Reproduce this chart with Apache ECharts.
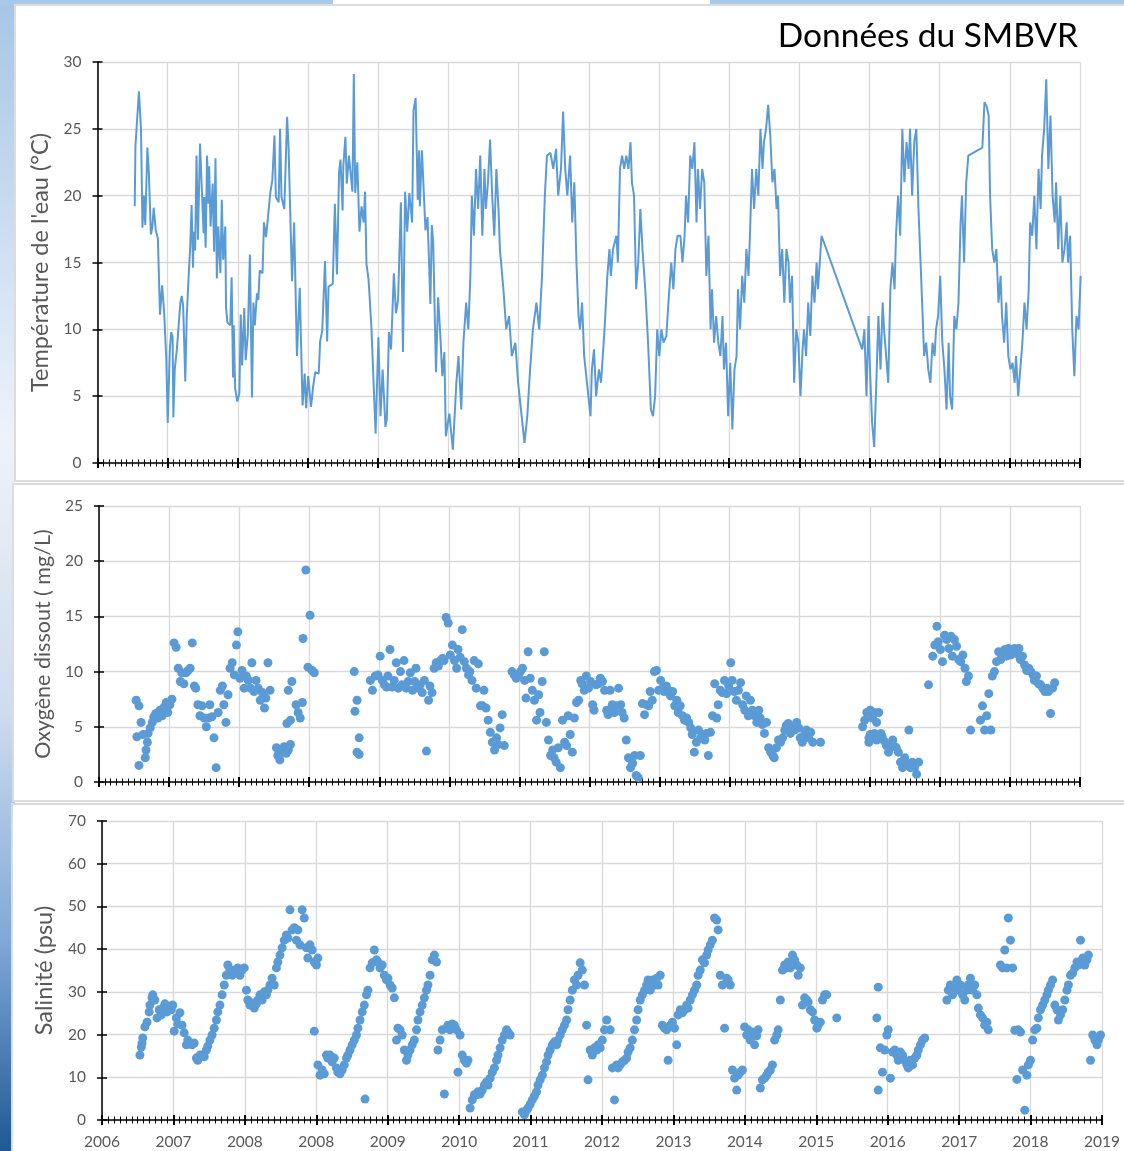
<!DOCTYPE html>
<html><head><meta charset="utf-8">
<script src="https://cdn.jsdelivr.net/npm/echarts@6/dist/echarts.min.js"></script>
<style>html,body{margin:0;padding:0;background:#fff}#c{width:1124px;height:1151px}</style>
</head><body><div id="c"></div>
<script>
// ---- data (x = decimal year, y = value) ----
const temperature = [
[2006.53,19.2],[2006.54,23.7],[2006.59,27.8],[2006.62,24.9],[2006.64,17.6],[2006.66,20.0],[2006.68,17.8],[2006.71,23.6],[2006.73,21.9],[2006.76,17.1],[2006.78,17.6],[2006.80,19.1],[2006.83,17.4],[2006.86,16.8],[2006.89,11.1],[2006.92,13.3],[2006.95,11.2],[2006.98,7.7],[2007.00,3.0],[2007.03,8.5],[2007.05,9.8],[2007.07,9.4],[2007.08,3.4],[2007.10,7.0],[2007.13,8.5],[2007.15,8.5],[2007.18,12.0],[2007.20,12.5],[2007.22,11.7],[2007.25,6.1],[2007.27,10.9],[2007.30,14.2],[2007.32,16.2],[2007.34,19.3],[2007.36,14.6],[2007.37,17.3],[2007.39,15.9],[2007.41,23.0],[2007.43,16.7],[2007.46,23.9],[2007.49,19.9],[2007.51,17.2],[2007.52,19.9],[2007.54,16.1],[2007.56,23.0],[2007.58,19.4],[2007.59,22.2],[2007.61,17.7],[2007.64,20.9],[2007.66,15.8],[2007.68,22.8],[2007.70,13.8],[2007.72,17.7],[2007.75,14.2],[2007.77,19.7],[2007.79,15.2],[2007.82,17.7],[2007.83,11.7],[2007.85,10.5],[2007.89,10.3],[2007.91,13.9],[2007.93,6.4],[2007.94,10.3],[2007.96,5.6],[2007.99,4.6],
[2008.02,5.2],[2008.04,11.1],[2008.06,7.3],[2008.09,11.6],[2008.11,7.7],[2008.14,9.6],[2008.17,15.6],[2008.20,4.9],[2008.22,12.0],[2008.24,10.3],[2008.27,12.7],[2008.29,12.2],[2008.31,14.4],[2008.35,14.2],[2008.37,18.0],[2008.40,16.9],[2008.42,16.8],[2008.46,20.2],[2008.49,21.2],[2008.52,24.5],[2008.54,19.9],[2008.58,19.5],[2008.60,25.0],[2008.62,19.9],[2008.66,19.0],[2008.70,25.9],[2008.72,23.7],[2008.77,13.6],[2008.80,18.0],[2008.84,8.0],[2008.88,13.1],[2008.92,4.3],[2008.95,6.7],[2008.97,4.1],
[2009.00,6.5],[2009.04,4.2],[2009.07,5.7],[2009.10,6.8],[2009.15,6.7],[2009.17,9.1],[2009.20,9.9],[2009.24,15.1],[2009.27,9.1],[2009.29,13.2],[2009.35,13.4],[2009.38,19.4],[2009.41,14.1],[2009.44,21.8],[2009.46,22.7],[2009.49,18.9],[2009.50,22.2],[2009.53,24.4],[2009.55,20.9],[2009.58,23.0],[2009.63,20.3],[2009.65,29.1],[2009.67,20.2],[2009.70,22.5],[2009.73,17.3],[2009.76,19.2],[2009.79,18.0],[2009.81,20.3],[2009.83,14.9],[2009.86,13.7],[2009.90,10.2],[2009.96,2.2],
[2010.00,9.4],[2010.03,3.5],[2010.06,7.0],[2010.10,2.7],[2010.12,3.3],[2010.15,9.8],[2010.18,8.5],[2010.22,14.2],[2010.25,11.2],[2010.28,12.2],[2010.32,19.5],[2010.35,8.3],[2010.38,20.3],[2010.41,17.3],[2010.44,20.2],[2010.48,18.0],[2010.50,26.4],[2010.53,27.3],[2010.56,19.7],[2010.58,23.4],[2010.59,19.2],[2010.62,23.4],[2010.67,17.4],[2010.70,18.4],[2010.74,11.9],[2010.76,17.8],[2010.78,16.6],[2010.82,6.8],[2010.85,12.4],[2010.88,9.7],[2010.91,6.5],[2010.94,8.3],[2010.96,2.0],
[2011.01,3.7],[2011.06,1.0],[2011.11,6],[2011.14,8],[2011.18,4],[2011.21,9],[2011.25,12],[2011.28,10],[2011.31,14],[2011.33,20],[2011.36,17],[2011.39,22],[2011.42,19],[2011.45,23],[2011.48,17],[2011.51,22],[2011.53,19],[2011.56,21],[2011.59,24.2],[2011.62,20],[2011.65,17],[2011.68,22],[2011.71,19],[2011.73,16],[2011.78,13],[2011.82,10],[2011.86,11],[2011.90,8],[2011.95,9],[2011.99,6],
[2012.03,4],[2012.08,1.5],[2012.12,3.5],[2012.16,7],[2012.20,10],[2012.25,12],[2012.29,10],[2012.33,14],[2012.37,20],[2012.40,23],[2012.45,23.2],[2012.49,22],[2012.53,23.5],[2012.56,20],[2012.60,22],[2012.63,26.3],[2012.66,22],[2012.69,20],[2012.73,23],[2012.76,18],[2012.79,21],[2012.82,15],[2012.85,11],[2012.87,10],[2012.90,12],[2012.93,8],[2012.97,6],
[2013.02,3.5],[2013.04,7],[2013.07,8.5],[2013.10,5],[2013.14,7],[2013.17,6],[2013.22,10],[2013.26,14],[2013.29,16],[2013.31,14],[2013.34,16],[2013.39,17],[2013.41,15],[2013.44,22],[2013.47,23],[2013.50,22],[2013.53,23],[2013.56,22],[2013.59,24],[2013.61,21],[2013.64,20],[2013.67,13],[2013.70,15],[2013.73,19],[2013.76,16],[2013.80,13],[2013.84,9],[2013.88,4],[2013.91,3.5],[2013.94,5],[2013.97,10],
[2014.00,8],[2014.03,10],[2014.06,9],[2014.10,9.5],[2014.13,12],[2014.17,15],[2014.20,13],[2014.23,16],[2014.26,17],[2014.30,17],[2014.33,15],[2014.36,17],[2014.38,20],[2014.41,18],[2014.44,23],[2014.47,22],[2014.50,24],[2014.53,18],[2014.55,22],[2014.58,19],[2014.61,22],[2014.64,21],[2014.67,14],[2014.70,17],[2014.73,10],[2014.75,13],[2014.78,9],[2014.81,11],[2014.84,9],[2014.87,8],[2014.90,11],[2014.92,7],[2014.95,9],[2014.98,3.5],
[2015.01,7.5],[2015.04,2.5],[2015.07,7],[2015.10,8],[2015.12,13],[2015.15,10],[2015.18,14],[2015.21,12],[2015.24,16],[2015.27,14],[2015.29,17],[2015.32,22],[2015.35,19],[2015.38,22],[2015.41,20],[2015.44,25],[2015.47,22],[2015.49,24],[2015.52,25],[2015.55,26.8],[2015.58,24.5],[2015.61,21],[2015.64,22],[2015.67,19],[2015.69,20],[2015.72,14],[2015.75,16],[2015.78,12],[2015.81,16],[2015.84,15],[2015.86,12],[2015.89,14],[2015.92,6],[2015.95,10],[2015.98,9],
[2016.01,5],[2016.04,8.5],[2016.06,10],[2016.09,8],[2016.12,12],[2016.15,9.5],[2016.18,14],[2016.21,12],[2016.24,15],[2016.26,13],[2016.31,17],[2016.89,8.5],[2016.92,10],[2016.95,5],[2016.98,11],
[2017.00,7],[2017.03,3],[2017.06,1.2],[2017.09,6],[2017.12,11],[2017.15,7],[2017.18,12],[2017.20,10],[2017.23,8],[2017.26,6],[2017.29,13],[2017.32,15],[2017.35,13],[2017.37,17],[2017.40,20],[2017.43,17],[2017.46,25],[2017.49,21],[2017.52,24],[2017.55,22],[2017.57,25],[2017.60,20],[2017.63,24],[2017.66,25],[2017.69,19],[2017.72,15],[2017.75,11],[2017.77,8],[2017.80,9],[2017.83,7],[2017.86,6],[2017.89,9],[2017.92,8],[2017.94,10],[2017.97,11],
[2018.00,14],[2018.03,9],[2018.06,7],[2018.09,4],[2018.12,9],[2018.14,5],[2018.17,4],[2018.20,11],[2018.23,10],[2018.26,12],[2018.29,18],[2018.31,20],[2018.34,15],[2018.37,21],[2018.40,23],[2018.60,23.6],[2018.63,27],[2018.66,26.7],[2018.69,26],[2018.71,20],[2018.74,16],[2018.77,15],[2018.80,16],[2018.83,12],[2018.86,14],[2018.88,11],[2018.91,9],[2018.94,12],[2018.97,8],
[2019.00,7],[2019.03,7.5],[2019.06,6],[2019.08,8],[2019.11,5],[2019.14,7],[2019.17,9],[2019.20,12],[2019.23,10],[2019.26,13],[2019.28,18],[2019.31,17],[2019.34,20],[2019.37,16],[2019.40,22],[2019.43,19],[2019.45,23],[2019.48,25],[2019.51,28.7],[2019.54,22],[2019.57,26],[2019.60,20],[2019.63,18],[2019.65,21],[2019.68,16],[2019.71,20],[2019.74,15],[2019.77,16],[2019.80,18],[2019.82,15],[2019.85,17],[2019.88,10],[2019.91,6.5],[2019.94,11],[2019.97,10],[2020.00,14]
];

const oxygen = [
[2006.53,7.4],[2006.57,6.9],[2006.54,4.1],[2006.57,1.5],[2006.60,5.4],[2006.63,4.3],[2006.66,2.2],[2006.67,2.9],[2006.69,3.6],[2006.70,4.4],[2006.73,4.9],[2006.76,5.4],[2006.78,5.9],[2006.81,6.2],[2006.84,5.8],[2006.87,6.5],[2006.90,6.0],[2006.93,6.8],[2006.96,7.2],[2006.98,6.3],
[2007.01,7.0],[2007.04,7.5],[2007.07,12.6],[2007.10,12.2],[2007.13,10.3],[2007.16,9.1],[2007.18,9.9],[2007.21,8.9],[2007.24,9.9],[2007.27,10.1],[2007.30,10.3],[2007.33,12.6],[2007.36,8.7],[2007.38,8.5],[2007.41,7.0],[2007.44,6.0],[2007.47,6.9],[2007.50,5.8],[2007.53,5.0],[2007.56,5.8],[2007.58,7.0],[2007.61,5.9],[2007.64,4.0],[2007.67,1.3],[2007.70,6.3],[2007.73,8.3],[2007.76,8.7],[2007.78,7.0],[2007.81,5.4],[2007.84,7.9],[2007.87,10.3],[2007.90,10.8],[2007.93,9.7],[2007.96,12.4],[2007.98,13.6],
[2008.01,9.4],[2008.04,10.1],[2008.07,8.5],[2008.10,9.6],[2008.13,9.2],[2008.16,8.5],[2008.18,10.8],[2008.21,8.2],[2008.24,9.2],[2008.27,8.5],[2008.30,7.4],[2008.33,8.1],[2008.36,6.7],[2008.38,7.6],[2008.41,10.8],[2008.44,8.3],[2008.53,3.1],[2008.55,2.4],[2008.58,2.0],[2008.61,2.7],[2008.64,3.2],[2008.67,2.6],[2008.70,2.9],[2008.73,3.4],[2008.68,5.3],[2008.73,5.6],[2008.70,8.3],[2008.75,9.1],[2008.81,7.0],[2008.84,6.3],[2008.87,5.8],[2008.90,7.2],[2008.91,13.0],[2008.95,19.2],[2008.98,10.4],
[2009.01,15.1],[2009.04,10.1],[2009.07,9.9],[2009.64,10.0],[2009.65,6.4],[2009.68,7.4],[2009.71,4.0],[2009.68,2.7],[2009.71,2.5],[2009.87,9.2],[2009.90,8.3],[2009.94,9.6],[2009.98,9.7],
[2010.01,11.4],[2010.04,9.2],[2010.07,8.8],[2010.10,8.6],[2010.12,9.6],[2010.15,12.0],[2010.18,8.6],[2010.21,9.2],[2010.24,10.8],[2010.27,8.5],[2010.30,10.0],[2010.32,8.8],[2010.35,11.0],[2010.38,8.5],[2010.41,9.1],[2010.44,9.9],[2010.47,8.3],[2010.50,9.1],[2010.52,10.3],[2010.55,8.5],[2010.58,8.8],[2010.61,8.1],[2010.64,9.2],[2010.67,2.8],[2010.70,7.4],[2010.72,8.7],[2010.75,8.1],[2010.78,10.3],[2010.81,10.8],[2010.84,10.5],[2010.87,11.0],[2010.90,11.2],[2010.92,11.0],[2010.95,14.9],[2010.98,14.4],
[2011.01,11.5],[2011.04,12.4],[2011.07,11.0],[2011.10,10.3],[2011.12,12.0],[2011.15,11.3],[2011.18,13.8],[2011.21,10.9],[2011.24,10.3],[2011.27,9.7],[2011.29,10.0],[2011.32,9.2],[2011.35,11.0],[2011.38,8.5],[2011.41,10.7],[2011.44,6.9],[2011.47,6.9],[2011.49,8.3],[2011.52,6.7],[2011.55,5.6],[2011.58,4.5],[2011.61,3.6],[2011.64,2.9],[2011.67,4.0],[2011.69,3.4],[2011.72,4.9],[2011.75,6.1],[2011.78,3.3],[2011.89,10.0],[2011.92,9.7],[2011.95,9.4],[2011.98,9.7],
[2012.01,10.0],[2012.04,10.3],[2012.07,9.2],[2012.09,7.6],[2012.12,11.8],[2012.15,9.4],[2012.18,8.3],[2012.21,7.4],[2012.24,5.6],[2012.27,7.9],[2012.29,6.3],[2012.32,9.1],[2012.35,11.8],[2012.38,5.4],[2012.41,3.8],[2012.44,2.4],[2012.47,2.9],[2012.49,2.2],[2012.52,1.8],[2012.55,3.1],[2012.58,1.3],[2012.61,5.6],[2012.64,3.6],[2012.67,3.3],[2012.69,6.0],[2012.72,4.3],[2012.75,2.7],[2012.78,5.8],[2012.81,7.2],[2012.84,7.4],[2012.87,9.2],[2012.89,8.9],[2012.92,8.3],[2012.95,9.6],[2012.98,8.5],
[2013.01,9.1],[2013.04,7.0],[2013.06,6.5],[2013.09,8.8],[2013.12,8.9],[2013.15,9.4],[2013.18,9.1],[2013.21,8.3],[2013.24,6.5],[2013.26,6.1],[2013.29,8.3],[2013.32,7.0],[2013.35,6.3],[2013.38,6.9],[2013.41,8.5],[2013.44,7.0],[2013.46,6.3],[2013.49,5.8],[2013.52,3.8],[2013.55,2.2],[2013.58,1.3],[2013.61,1.7],[2013.64,2.4],[2013.66,0.6],[2013.69,0.4],[2013.72,2.4],[2013.75,7.1],[2013.78,6.1],[2013.81,7.0],[2013.84,6.9],[2013.86,8.2],[2013.89,7.4],[2013.92,10.0],[2013.95,10.1],[2013.98,8.3],
[2014.01,9.2],[2014.04,8.5],[2014.06,8.2],[2014.09,8.7],[2014.12,8.3],[2014.15,7.8],[2014.18,8.2],[2014.21,6.9],[2014.24,7.4],[2014.26,6.3],[2014.29,6.9],[2014.32,6.0],[2014.35,5.6],[2014.38,5.8],[2014.41,5.4],[2014.44,4.9],[2014.46,4.3],[2014.49,2.7],[2014.52,3.6],[2014.55,4.7],[2014.58,4.0],[2014.61,4.3],[2014.64,3.8],[2014.66,4.4],[2014.69,2.4],[2014.72,4.5],[2014.75,6.0],[2014.78,8.9],[2014.81,5.8],[2014.83,7.0],[2014.86,8.3],[2014.89,8.1],[2014.92,9.2],[2014.95,8.0],[2014.98,8.7],
[2015.01,10.8],[2015.03,9.2],[2015.06,8.2],[2015.09,7.4],[2015.12,8.3],[2015.15,9.0],[2015.18,7.0],[2015.21,6.5],[2015.23,7.8],[2015.26,6.0],[2015.29,7.4],[2015.32,6.5],[2015.35,6.0],[2015.38,5.4],[2015.41,6.5],[2015.43,5.8],[2015.46,5.2],[2015.49,4.4],[2015.52,5.4],[2015.55,3.1],[2015.58,2.7],[2015.61,2.4],[2015.63,2.2],[2015.66,3.1],[2015.69,3.8],[2015.72,3.6],[2015.75,4.0],[2015.78,4.7],[2015.80,5.1],[2015.83,5.3],[2015.86,4.4],[2015.89,4.9],[2015.92,4.7],[2015.95,5.4],[2015.98,4.9],
[2016.00,4.0],[2016.03,3.6],[2016.06,4.3],[2016.09,4.7],[2016.12,4.0],[2016.15,4.5],[2016.18,3.6],[2016.29,3.6],[2016.89,5.0],[2016.92,5.6],[2016.95,6.3],[2016.98,3.6],[2016.98,4.0],
[2017.00,6.5],[2017.03,5.8],[2017.06,6.3],[2017.09,5.4],[2017.12,6.3],[2017.15,4.3],[2017.00,4.3],[2017.03,4.0],[2017.06,4.4],[2017.09,3.8],[2017.12,4.0],[2017.15,4.4],[2017.17,4.1],[2017.20,3.7],[2017.23,3.3],[2017.26,2.7],[2017.29,3.2],[2017.32,3.8],[2017.35,3.2],[2017.37,3.1],[2017.40,2.7],[2017.43,1.8],[2017.46,1.3],[2017.49,2.2],[2017.52,1.6],[2017.55,4.7],[2017.57,1.3],[2017.60,1.8],[2017.63,1.3],[2017.66,0.7],[2017.69,1.8],[2017.83,8.8],[2017.89,11.4],[2017.92,12.4],[2017.95,14.1],[2017.97,12.7],
[2018.00,12.0],[2018.03,10.9],[2018.06,13.3],[2018.09,12.9],[2018.12,12.1],[2018.15,13.2],[2018.17,11.4],[2018.20,12.9],[2018.23,12.3],[2018.26,11.1],[2018.29,10.9],[2018.32,11.5],[2018.35,10.3],[2018.37,9.1],[2018.40,9.6],[2018.43,4.7],[2018.57,5.6],[2018.60,6.9],[2018.63,4.7],[2018.66,6.0],[2018.69,8.0],[2018.72,4.7],[2018.74,9.6],[2018.77,10.0],[2018.80,10.9],[2018.83,11.8],[2018.86,11.1],[2018.89,11.8],[2018.92,12.0],[2018.94,11.4],[2018.97,12.1],
[2019.00,11.5],[2019.03,12.0],[2019.06,12.1],[2019.09,11.6],[2019.12,12.1],[2019.14,11.1],[2019.17,11.4],[2019.20,10.6],[2019.23,10.1],[2019.26,10.3],[2019.29,10.0],[2019.32,9.7],[2019.34,9.2],[2019.37,9.6],[2019.40,8.9],[2019.43,8.8],[2019.46,8.5],[2019.49,8.2],[2019.52,8.5],[2019.54,8.2],[2019.57,6.2],[2019.60,8.5],[2019.63,9.0]
];

const salinity = [
[2006.53,15.2],[2006.55,17.1],[2006.56,18.0],[2006.57,19.2],[2006.60,21.8],[2006.63,22.9],[2006.66,25.3],[2006.67,26.9],[2006.70,28.6],[2006.71,29.3],[2006.74,28.1],[2006.77,23.9],[2006.80,25.8],[2006.83,24.6],[2006.85,26.2],[2006.88,27.2],[2006.91,25.3],[2006.94,26.7],[2006.97,25.8],[2006.99,26.9],
[2007.01,20.8],[2007.04,23.9],[2007.06,22.5],[2007.09,25.1],[2007.12,22.2],[2007.15,20.4],[2007.18,17.6],[2007.20,18.7],[2007.23,18.0],[2007.26,17.6],[2007.29,18.0],[2007.32,14.5],[2007.34,14.0],[2007.37,15.2],[2007.40,15.2],[2007.43,14.8],[2007.46,16.4],[2007.48,17.3],[2007.51,18.7],[2007.54,19.9],[2007.57,21.5],[2007.60,23.4],[2007.62,25.3],[2007.65,26.9],[2007.68,29.3],[2007.71,31.6],[2007.74,33.9],[2007.76,36.3],[2007.79,35.1],[2007.82,33.9],[2007.85,35.1],[2007.88,34.4],[2007.90,35.6],[2007.93,33.9],[2007.96,35.1],[2007.99,35.6],
[2008.02,30.4],[2008.04,28.1],[2008.07,26.9],[2008.10,27.4],[2008.13,26.2],[2008.16,27.2],[2008.18,28.1],[2008.21,29.3],[2008.24,28.1],[2008.27,30.0],[2008.30,29.3],[2008.32,30.4],[2008.35,31.6],[2008.38,33.2],[2008.41,31.6],[2008.44,35.6],[2008.46,37.0],[2008.49,38.6],[2008.52,40.3],[2008.55,42.1],[2008.58,43.3],[2008.60,42.6],[2008.63,49.2],[2008.66,44.5],[2008.69,45.0],[2008.72,42.1],[2008.74,44.5],[2008.77,41.0],[2008.80,49.2],[2008.83,47.3],[2008.86,40.3],[2008.88,37.9],[2008.91,41.0],[2008.94,39.8],[2008.97,37.0],[2009.00,36.3],[2009.02,37.9],[2008.97,20.8],
[2009.02,12.9],[2009.05,10.5],[2009.08,11.7],[2009.11,10.8],[2009.14,15.2],[2009.16,14.5],[2009.19,15.2],[2009.22,13.6],[2009.25,14.5],[2009.28,12.2],[2009.30,11.2],[2009.33,10.8],[2009.36,11.7],[2009.39,12.9],[2009.42,14.5],[2009.44,15.2],[2009.47,16.4],[2009.50,17.6],[2009.53,18.7],[2009.56,19.9],[2009.58,21.5],[2009.61,23.4],[2009.64,25.3],[2009.67,26.9],[2009.70,29.3],[2009.72,30.4],[2009.68,4.9],[2009.75,35.6],[2009.78,36.8],[2009.81,39.8],[2009.84,37.5],[2009.86,37.0],[2009.89,35.6],[2009.92,36.3],[2009.95,33.9],[2009.98,32.8],
[2010.00,33.2],[2010.03,31.6],[2010.06,30.9],[2010.09,28.6],[2010.12,18.7],[2010.14,21.5],[2010.17,21.1],[2010.20,19.9],[2010.23,16.4],[2010.26,14.0],[2010.28,15.2],[2010.31,16.4],[2010.34,17.6],[2010.37,18.7],[2010.40,21.1],[2010.42,23.4],[2010.45,25.3],[2010.48,26.9],[2010.51,28.6],[2010.54,30.4],[2010.56,31.6],[2010.59,33.9],[2010.62,37.5],[2010.65,38.6],[2010.68,37.0],[2010.70,16.4],[2010.73,18.7],[2010.76,21.1],[2010.79,6.1],[2010.82,21.5],[2010.84,22.2],[2010.87,21.1],[2010.90,22.5],[2010.93,22.2],[2010.96,21.1],[2010.98,11.2],
[2011.01,19.9],[2011.04,15.2],[2011.07,14.0],[2011.10,13.3],[2011.12,14.0],[2011.15,2.8],[2011.18,4.7],[2011.21,5.9],[2011.24,5.9],[2011.26,6.6],[2011.29,6.1],[2011.32,7.0],[2011.35,8.2],[2011.38,8.9],[2011.40,8.2],[2011.43,9.8],[2011.46,11.2],[2011.49,12.2],[2011.52,14.0],[2011.54,15.2],[2011.57,16.9],[2011.60,18.7],[2011.63,19.9],[2011.66,21.1],[2011.68,20.6],[2011.71,19.9],[2011.88,1.9],[2011.91,1.2],[2011.94,2.3],[2011.96,2.8],[2011.99,3.7],
[2012.02,4.7],[2012.05,5.6],[2012.08,6.6],[2012.10,8.2],[2012.13,9.4],[2012.16,10.5],[2012.19,12.2],[2012.22,13.6],[2012.24,15.2],[2012.27,16.4],[2012.30,17.6],[2012.33,18.3],[2012.36,17.6],[2012.38,18.7],[2012.41,19.9],[2012.44,21.1],[2012.47,22.2],[2012.50,23.4],[2012.52,25.8],[2012.55,28.1],[2012.58,30.4],[2012.61,32.8],[2012.64,31.6],[2012.66,33.9],[2012.69,36.8],[2012.72,35.1],[2012.75,31.6],[2012.78,22.2],[2012.80,9.4],[2012.83,16.4],[2012.86,15.2],[2012.89,16.9],[2012.92,16.4],[2012.94,17.6],[2012.97,16.9],
[2013.00,18.7],[2013.03,21.1],[2013.06,23.4],[2013.11,21.1],[2013.14,12.2],[2013.17,4.7],[2013.20,12.9],[2013.22,12.2],[2013.25,12.9],[2013.28,13.6],[2013.31,14.0],[2013.34,14.5],[2013.36,15.9],[2013.39,16.9],[2013.42,18.7],[2013.45,21.1],[2013.48,23.4],[2013.50,25.8],[2013.53,28.1],[2013.56,29.3],[2013.59,30.4],[2013.62,31.6],[2013.64,32.8],[2013.67,30.4],[2013.70,32.8],[2013.73,31.6],[2013.76,33.2],[2013.78,31.6],[2013.81,33.9],[2013.84,22.2],[2013.87,21.5],[2013.90,21.1],[2013.92,14.0],[2013.95,22.2],[2013.98,22.9],
[2014.01,21.5],[2014.04,17.6],[2014.06,24.6],[2014.09,25.8],[2014.12,25.1],[2014.15,25.8],[2014.18,26.9],[2014.20,26.2],[2014.23,28.1],[2014.26,29.3],[2014.29,30.4],[2014.32,31.6],[2014.34,33.9],[2014.37,35.1],[2014.40,37.5],[2014.43,36.8],[2014.46,38.6],[2014.48,39.8],[2014.51,41.0],[2014.54,42.1],[2014.57,47.3],[2014.60,46.8],[2014.62,44.5],[2014.65,33.9],[2014.68,31.6],[2014.71,21.5],[2014.74,33.2],[2014.76,32.8],[2014.79,31.6],[2014.82,11.7],[2014.85,9.8],[2014.88,7.0],[2014.90,10.5],[2014.93,11.2],[2014.96,11.7],[2014.99,21.8],
[2015.02,19.9],[2015.04,21.1],[2015.07,18.7],[2015.10,20.6],[2015.13,17.6],[2015.16,19.7],[2015.18,21.1],[2015.21,7.5],[2015.24,9.4],[2015.27,9.8],[2015.30,10.5],[2015.32,11.2],[2015.35,11.7],[2015.38,12.9],[2015.41,18.7],[2015.44,19.9],[2015.46,21.1],[2015.49,28.1],[2015.52,35.1],[2015.55,36.3],[2015.58,35.6],[2015.60,37.0],[2015.63,35.6],[2015.66,38.6],[2015.69,37.5],[2015.72,36.3],[2015.74,33.9],[2015.77,35.6],[2015.80,26.9],[2015.83,28.6],[2015.86,28.1],[2015.88,27.6],[2015.91,25.8],[2015.94,25.3],[2015.97,23.4],
[2016.00,21.5],[2016.02,22.2],[2016.05,22.9],[2016.08,28.1],[2016.11,29.3],[2016.14,29.3],[2016.28,23.9],[2016.84,23.9],[2016.86,31.1],[2016.86,7.0],[2016.89,16.9],[2016.92,11.2],[2016.95,16.4],[2016.98,19.9],
[2017.00,21.1],[2017.03,9.8],[2017.06,15.9],[2017.09,16.4],[2017.12,15.2],[2017.14,14.0],[2017.17,15.9],[2017.20,15.2],[2017.23,14.0],[2017.26,12.9],[2017.28,12.2],[2017.31,14.0],[2017.34,12.9],[2017.37,14.5],[2017.40,15.2],[2017.42,16.4],[2017.45,17.6],[2017.48,18.7],[2017.51,19.2],[2017.82,28.1],[2017.84,30.4],[2017.87,31.6],[2017.90,29.3],[2017.93,30.9],[2017.96,32.8],[2017.98,30.4],
[2018.01,31.6],[2018.04,29.3],[2018.07,28.1],[2018.10,30.4],[2018.12,31.6],[2018.15,33.2],[2018.18,30.4],[2018.21,31.6],[2018.24,29.3],[2018.26,26.2],[2018.29,24.6],[2018.32,23.9],[2018.35,22.2],[2018.38,22.9],[2018.40,21.1],[2018.57,36.3],[2018.60,35.6],[2018.63,39.8],[2018.66,35.6],[2018.68,47.3],[2018.71,42.1],[2018.74,35.6],[2018.77,21.0],[2018.80,9.5],[2018.82,21.1],[2018.85,20.6],[2018.88,11.7],[2018.91,2.3],[2018.94,10.5],[2018.96,12.9],[2018.99,14.0],
[2019.02,18.7],[2019.05,21.1],[2019.08,21.5],[2019.10,23.9],[2019.13,25.8],[2019.16,26.9],[2019.19,28.1],[2019.22,29.3],[2019.24,30.4],[2019.27,31.6],[2019.30,32.8],[2019.33,26.9],[2019.36,25.8],[2019.38,23.4],[2019.41,24.6],[2019.44,25.8],[2019.47,28.1],[2019.50,30.4],[2019.52,31.6],[2019.55,33.9],[2019.58,34.4],[2019.61,35.6],[2019.64,37.0],[2019.66,36.3],[2019.69,42.1],[2019.72,37.9],[2019.75,36.3],[2019.78,37.5],[2019.80,38.6],[2019.83,14.0],[2019.86,19.9],[2019.89,18.7],[2019.92,17.6],[2019.94,18.7],[2019.97,19.9],[2020.00,17.6]
];

// axis definitions
const axisStartYear = 2006;      // x axis starts 1 Jan 2006
const xMajorDays = 365;          // major unit (days)
const xMajorCount = 14;
const tempTicks = {min: 0, max: 30, step: 5};
const oxyTicks = {min: 0, max: 25, step: 5};
const salTicks = {min: 0, max: 70, step: 10};
const titles = {
  main: 'Données du SMBVR',
  temp: "Température de l'eau (°C)",
  oxy: 'Oxygène dissout ( mg/L)',
  sal: 'Salinité (psu)'
};

// ---- build ----
const DAY = 86400000;
const t0 = Date.UTC(axisStartYear, 0, 1);
const toDays = yr => (yr - axisStartYear) * 365.25;
const yearLabel = v => String(new Date(t0 + v * DAY).getUTCFullYear());

const FONT = 'Lato, "Open Sans", "Liberation Sans", sans-serif';
const GREY = '#595959';
const BLUE = '#5B9BD5';

const grids = [
  {left: 97.5, right: 44, top: 62, height: 401},
  {left: 99, right: 44, top: 506, height: 276},
  {left: 102, right: 22, top: 821, height: 299}
];

function xPair(gi, showLabels) {
  const base = {
    type: 'value', gridIndex: gi, position: 'bottom',
    min: 0, max: xMajorDays * xMajorCount, interval: xMajorDays
  };
  return [
    Object.assign({}, base, {
      axisLine: {show: true, onZero: false, lineStyle: {color: '#000', width: 1.5}},
      axisTick: {show: true, inside: false, length: 5, lineStyle: {color: '#000', width: 2}},
      minorTick: {show: true, splitNumber: 12, length: 3.5, lineStyle: {color: '#000', width: 1}},
      splitLine: {show: true, lineStyle: {color: '#d9d9d9', width: 1.3}},
      axisLabel: {show: showLabels, showMinLabel: true, showMaxLabel: true, margin: 14,
        color: GREY, fontSize: 15.5, fontFamily: FONT, formatter: yearLabel}
    }),
    Object.assign({}, base, {
      axisLine: {show: false, onZero: false},
      axisTick: {show: true, inside: true, length: 5, lineStyle: {color: '#000', width: 2}},
      minorTick: {show: true, splitNumber: 12, length: 3.5, lineStyle: {color: '#000', width: 1}},
      splitLine: {show: false},
      axisLabel: {show: false}
    })
  ];
}
function yPair(gi, t, name, gap, fs) {
  const base = {type: 'value', gridIndex: gi, position: 'left', min: t.min, max: t.max, interval: t.step};
  return [
    Object.assign({}, base, {
      name: name, nameLocation: 'middle', nameGap: gap, nameRotate: 90,
      nameTextStyle: {color: GREY, fontSize: fs, fontFamily: FONT},
      axisLine: {show: true, onZero: false, lineStyle: {color: '#000', width: 1.5}},
      axisTick: {show: true, inside: false, length: 5, lineStyle: {color: '#000', width: 1.5}},
      splitLine: {show: true, lineStyle: {color: '#d9d9d9', width: 1.3}},
      axisLabel: {show: true, margin: 16, color: GREY, fontSize: 15.5, fontFamily: FONT}
    }),
    Object.assign({}, base, {
      axisLine: {show: false, onZero: false},
      axisTick: {show: true, inside: true, length: 5, lineStyle: {color: '#000', width: 1.5}},
      splitLine: {show: false},
      axisLabel: {show: false}
    })
  ];
}

const xAxes = [].concat(xPair(0, false), xPair(1, false), xPair(2, true));
const yAxes = [].concat(yPair(0, tempTicks, titles.temp, 43, 23.5), yPair(1, oxyTicks, titles.oxy, 44, 21.5), yPair(2, salTicks, titles.sal, 46, 23.5));

const toXY = arr => arr.map(p => [toDays(p[0]), p[1]]);

const leftGrad = {
  type: 'linear', x: 0, y: 0, x2: 0, y2: 1,
  colorStops: [
    {offset: 0, color: '#a6c6e6'}, {offset: 0.38, color: '#eef3fa'},
    {offset: 0.62, color: '#cddcee'}, {offset: 0.82, color: '#7fa7d6'},
    {offset: 1, color: '#1f5894'}
  ]
};

const option = {
  animation: false,
  backgroundColor: '#ffffff',
  title: {text: titles.main, right: 41, top: 14,
    textStyle: {color: '#000', fontSize: 33.5, fontWeight: 'normal', fontFamily: FONT}},
  graphic: [
    {type: 'rect', z: -10, shape: {x: 0, y: 0, width: 15, height: 1151}, style: {fill: leftGrad}},
    {type: 'rect', z: -10, shape: {x: 0, y: 0, width: 333, height: 5}, style: {fill: '#a9c9e9'}},
    {type: 'rect', z: -10, shape: {x: 710, y: 0, width: 414, height: 5}, style: {fill: '#a9c9e9'}},
    {type: 'rect', z: -9, shape: {x: 15, y: 5, width: 1120, height: 476}, style: {fill: '#fff', stroke: '#dcdcdc', lineWidth: 2}},
    {type: 'rect', z: -9, shape: {x: 13, y: 484, width: 1120, height: 317}, style: {fill: '#fff', stroke: '#dcdcdc', lineWidth: 2}},
    {type: 'rect', z: -9, shape: {x: 12, y: 804, width: 1120, height: 360}, style: {fill: '#fff', stroke: '#dcdcdc', lineWidth: 2}}
  ],
  grid: grids.map(g => Object.assign({containLabel: false, outerBoundsMode: 'none'}, g)),
  xAxis: xAxes,
  yAxis: yAxes,
  series: [
    {type: 'line', xAxisIndex: 0, yAxisIndex: 0, data: toXY(temperature), showSymbol: false,
     lineStyle: {color: BLUE, width: 2}, itemStyle: {color: BLUE}, z: 3},
    {type: 'scatter', xAxisIndex: 2, yAxisIndex: 2, data: toXY(oxygen), symbolSize: 9,
     itemStyle: {color: BLUE, opacity: 1}, z: 3},
    {type: 'scatter', xAxisIndex: 4, yAxisIndex: 4, data: toXY(salinity), symbolSize: 9,
     itemStyle: {color: BLUE, opacity: 1}, z: 3}
  ]
};

const chart = echarts.init(document.getElementById('c'), null, {renderer: 'canvas'});
chart.setOption(option);
</script></body></html>
